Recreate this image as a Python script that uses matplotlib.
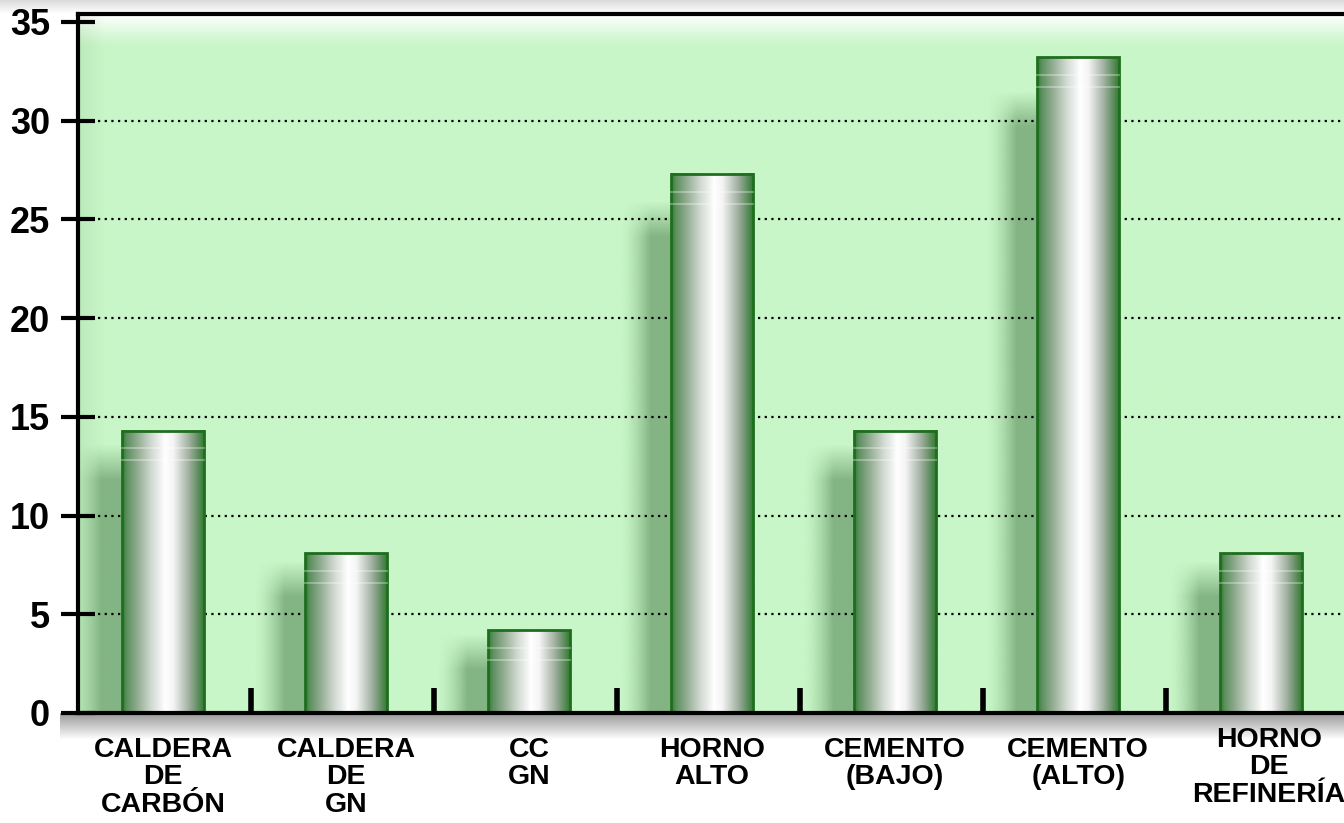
import numpy as np
import matplotlib
matplotlib.use("Agg")
import matplotlib.pyplot as plt
from matplotlib.colors import LinearSegmentedColormap, to_rgb
from matplotlib.patches import Rectangle
import matplotlib.transforms as mtransforms

# ---- data ----
categories = ["CALDERA\nDE\nCARBÓN", "CALDERA\nDE\nGN", "CC\nGN", "HORNO\nALTO",
              "CEMENTO\n(BAJO)", "CEMENTO\n(ALTO)", "HORNO\nDE\nREFINERÍA"]
values = [14.3, 8.1, 4.2, 27.3, 14.3, 33.2, 8.1]
yticks = [0, 5, 10, 15, 20, 25, 30, 35]

plt.rcParams['font.family'] = ['Liberation Sans', 'DejaVu Sans']
plt.rcParams['font.weight'] = 'bold'

W, H = 1344, 823
fig = plt.figure(figsize=(W / 100, H / 100), dpi=100)
fig.patch.set_facecolor('white')

# figure-level background decorations (top grey band, shadow under axis)
bg = fig.add_axes([0, 0, 1, 1], zorder=0)
bg.set_xlim(0, W)
bg.set_ylim(H, 0)
bg.axis('off')
band = np.linspace(0.86, 1.0, 14)[:, None] * np.ones((1, 2))
bg.imshow(np.dstack([band] * 3), extent=[0, W, 14, 0], aspect='auto', interpolation='bilinear')
sh = np.linspace(0.6, 1.0, 25)[:, None] * np.ones((1, 2))
bg.imshow(np.dstack([sh] * 3), extent=[60, W, 740, 713], aspect='auto', interpolation='bilinear')

left_px, right_px, top_px, bot_px = 78, 1371, 14, 713
ax = fig.add_axes([left_px / W, 1 - bot_px / H, (right_px - left_px) / W, (bot_px - top_px) / H], zorder=1)
XL = (-0.465, 6.6)
YL = (0, 35.4)
ax.set_xlim(*XL)
ax.set_ylim(*YL)

green = np.array(to_rgb('#c8f6c8'))
# background with top highlight and left darker edge
ny, nx = 300, 400
yy = np.linspace(1, 0, ny)[:, None]  # 1 at top
xx = np.linspace(0, 1, nx)[None, :]
top_hl = np.clip((yy - 0.955) / 0.045, 0, 1) ** 1.2
left_dk = np.clip(1 - xx / 0.02, 0, 1) * 0.12
img = np.ones((ny, nx, 3)) * green
img = img * (1 - top_hl[..., None]) + top_hl[..., None] * 1.0
img = img * (1 - left_dk[..., None]) + left_dk[..., None] * np.array([0.4, 0.6, 0.4])
ax.imshow(img, extent=[XL[0], XL[1], YL[0], YL[1]], aspect='auto', zorder=0, interpolation='bilinear')

x = np.arange(len(categories))
bw = 0.45

# shadows
shadow_rgb = np.array([0.25, 0.45, 0.25])
for xi, v in zip(x, values):
    x0, x1 = xi - bw / 2 - 0.28, xi - bw / 2 + 0.05
    top = v * 0.95
    ys = np.linspace(0, top, 200)
    xs = np.linspace(0, 1, 100)
    hx = np.clip(xs / 0.5, 0, 1) ** 1.5
    vy = np.clip((top - ys) / 1.8, 0, 1)
    a = 0.5 * vy[::-1, None] * hx[None, :]
    rgba = np.zeros((200, 100, 4))
    rgba[..., :3] = shadow_rgb
    rgba[..., 3] = a
    ax.imshow(rgba, extent=[x0, x1, 0, top], aspect='auto', zorder=1, interpolation='bilinear')

# cylinder bars
cyl = LinearSegmentedColormap.from_list('cyl', [
    (0.0, '#2f7a2f'), (0.06, '#5e9160'), (0.18, '#8fab8f'), (0.35, '#d0d8d0'),
    (0.52, '#ffffff'), (0.62, '#f4f4f4'), (0.8, '#a5b3a5'), (0.92, '#5f8d5f'), (1.0, '#2a7a2a')])
grad = np.linspace(0, 1, 256)[None, :]
for xi, v in zip(x, values):
    ax.imshow(grad, cmap=cyl, extent=[xi - bw / 2, xi + bw / 2, 0, v], aspect='auto',
              zorder=3, interpolation='bilinear')
    ax.add_patch(Rectangle((xi - bw / 2, 0), bw, v, fill=False, edgecolor='#1f6e1f', lw=2, zorder=4))
    for dy in (0.9, 1.5):
        ax.plot([xi - bw / 2, xi + bw / 2], [v - dy, v - dy], color='white', alpha=0.3, lw=1.5, zorder=4)

# grid
ax.set_yticks(yticks)
ax.yaxis.grid(True, linestyle=(0, (1, 2)), color='black', lw=1.6, zorder=2)
ax.set_axisbelow(False)
gls = ax.get_ygridlines()
for gl in gls:
    gl.set_zorder(2)
gls[-1].set_visible(False)

# spines
for s in ['left', 'bottom', 'top']:
    ax.spines[s].set_linewidth(3)
    ax.spines[s].set_color('black')
    ax.spines[s].set_zorder(6)
ax.spines['right'].set_visible(False)

ax.tick_params(axis='y', direction='inout', length=24, width=3, pad=8)
for lab in ax.get_yticklabels():
    lab.set_fontweight('bold')
    lab.set_fontsize(26)

ax.set_xticks(x)
ax.set_xticklabels(categories, fontsize=20.5, fontweight='bold', linespacing=1.08)
ax.tick_params(axis='x', which='major', length=0, pad=17)
ax.set_xticks(x[:-1] + 0.48, minor=True)
ax.tick_params(axis='x', which='minor', direction='in', length=18, width=4, color='black')
last = ax.get_xticklabels()[-1]
last.set_transform(last.get_transform() + mtransforms.ScaledTranslation(0.08, 0.1, fig.dpi_scale_trans))

fig.savefig('out.png', dpi=100)
